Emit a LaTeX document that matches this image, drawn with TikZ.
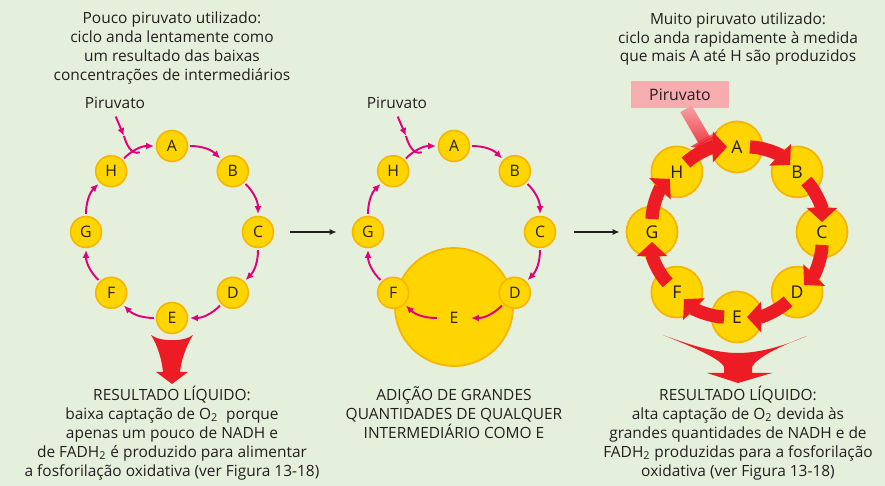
\documentclass[tikz,border=0pt]{standalone}
\usepackage{fontspec}
\setmainfont{Open Sans}
\usepackage{tikz}
\usetikzlibrary{arrows.meta, calc, fadings}

\definecolor{bgcol}{HTML}{E5F0DC}
\definecolor{magcol}{HTML}{E2007A}
\definecolor{ballfill}{HTML}{FFD500}
\definecolor{ballrim}{HTML}{F8B500}
\definecolor{redcol}{HTML}{ED1C24}
\definecolor{pinkcol}{HTML}{F7ADB0}
\definecolor{inkcol}{HTML}{231F20}

\tikzfading[name=pyrfade, top color=transparent!100, bottom color=transparent!0]

\begin{document}
\begin{tikzpicture}[x=0.02cm, y=0.02cm,
  every node/.style={text=inkcol},
  caption/.style={align=center, font=\fontsize{8.8}{10.8}\selectfont},
  ball/.style={circle, draw=ballrim, line width=0.9pt, fill=ballfill, minimum size=0.62cm, inner sep=0pt, font=\fontsize{9}{10}\selectfont},
  bigball/.style={circle, draw=ballrim, line width=1pt, fill=ballfill, minimum size=1.02cm, inner sep=0pt},
  letter/.style={font=\fontsize{10}{11}\selectfont, inner sep=0pt},
  magarrow/.style={-{Latex[length=4.5pt,width=4pt]}, magcol, line width=1.1pt, shorten >=1pt, shorten <=1pt},
  magline/.style={magcol, line width=1.1pt},
  redarrow/.style={-{Triangle[length=8pt,width=17pt]}, redcol, line width=7.5pt},
  flow/.style={-{Latex[length=4pt,width=3.5pt]}, line width=0.8pt, inkcol}
]
\fill[bgcol] (0,0) rectangle (885,486);
\useasboundingbox (0,0) rectangle (885,486);

% slow cycle
\coordinate (c1) at (172,254);
\foreach \n/\a in {A/90,B/45,C/0,D/-45,E/-90,F/-135,G/180,H/135}
  \node[ball] (p\n) at ($(c1)+(\a:86)$) {\n};
\foreach \s/\t in {A/B,B/C,C/D,D/E,E/F,F/G,G/H,H/A}
  \draw[magarrow] (p\s) to[bend left=22.5] (p\t);
\node[caption] (piru1) at (115,383) {Piruvato};
\coordinate (m1) at (124,350);
\coordinate (j1) at ($(c1)+(112:86)$);
\draw[magarrow, shorten >=0pt] (piru1.south) -- (m1);
\draw[magline] (m1) to[out=-75, in=200] (j1);
\node[caption] (top1) at (172,438) {Pouco piruvato utilizado:\\ciclo anda lentamente como\\um resultado das baixas\\concentrações de intermediários};

% added intermediate
\coordinate (c2) at (454,254);
\node[bigball, minimum size=2.36cm] (bigE) at (454,179) {};
\foreach \n/\a in {A/90,B/45,C/0,D/-45,F/-135,G/180,H/135}
  \node[ball] (q\n) at ($(c2)+(\a:86)$) {\n};
\node[circle, minimum size=0.6cm, inner sep=0pt, font=\fontsize{9}{10}\selectfont] (qE) at ($(c2)+(-90:86)$) {E};
\foreach \s/\t in {A/B,B/C,C/D,D/E,E/F,F/G,G/H,H/A}
  \draw[magarrow] (q\s) to[bend left=22.5] (q\t);
\node[caption] (piru2) at (397,383) {Piruvato};
\coordinate (m2) at (406,350);
\coordinate (j2) at ($(c2)+(112:86)$);
\draw[magarrow, shorten >=0pt] (piru2.south) -- (m2);
\draw[magline] (m2) to[out=-75, in=200] (j2);

% fast cycle
\coordinate (c3) at (737,254);
\foreach \n/\a in {A/90,B/45,C/0,D/-45,E/-90,F/-135,G/180,H/135}
  \node[bigball] (r\n) at ($(c3)+(\a:85)$) {};
\node[fill=pinkcol, minimum width=1.96cm, minimum height=0.54cm, font=\fontsize{9}{10}\selectfont] (pbox) at (680,391) {Piruvato};
\coordinate (jr) at ($(c3)+(108:85)$);
\draw[pinkcol, line width=7.5pt] ([xshift=0.12cm]pbox.south) -- (jr);
\draw[redarrow, path fading=pyrfade] ([xshift=0.12cm]pbox.south) -- (jr);
\foreach \s/\t in {A/B,B/C,C/D,D/E,E/F,F/G,G/H,H/A}
  \draw[redarrow, shorten <=0.26cm, shorten >=0.2cm] (r\s.center) to[bend left=22.5] (r\t.center);
\foreach \n in {A,B,C,D,E,F,G,H}
  \node[letter] (l\n) at (r\n) {\n};
\node[caption] (top3) at (738,447) {Muito piruvato utilizado:\\ciclo anda rapidamente à medida\\que mais A até H são produzidos};

\draw[flow] ([xshift=0.32cm]pC.east) -- ([xshift=-0.3cm]qG.west);
\draw[flow] ([xshift=0.36cm]qC.east) -- ([xshift=-0.12cm]rG.west);

% net result arrows
\fill[redcol] (151,151) .. controls (160,144) and (184,144) .. (193,151)
  .. controls (186,140) and (181,125) .. (180,114) -- (188,114) -- (172,102)
  -- (156,114) -- (163,114) .. controls (162,125) and (158,140) .. (151,151) -- cycle;
\fill[redcol] (663,151) .. controls (690,141) and (715,133) .. (738,133)
  .. controls (761,133) and (786,141) .. (807,150)
  .. controls (780,140) and (756,128) .. (752,119) -- (752,113) -- (772,113) -- (738,103)
  -- (707,113) -- (724,113) -- (724,119) .. controls (720,128) and (690,140) .. (663,151) -- cycle;

\node[caption] (res1) at (172,53) {RESULTADO LÍQUIDO:\\baixa captação de O\textsubscript{2}\ \ porque\\apenas um pouco de NADH e\\de FADH\textsubscript{2} é produzido para alimentar\\a fosforilação oxidativa (ver Figura 13-18)};
\node[caption] (res2) at (454,73) {ADIÇÃO DE GRANDES\\QUANTIDADES DE QUALQUER\\INTERMEDIÁRIO COMO E};
\node[caption] (res3) at (738,53) {RESULTADO LÍQUIDO:\\alta captação de O\textsubscript{2} devida às\\grandes quantidades de NADH e de\\FADH\textsubscript{2} produzidas para a fosforilação\\oxidativa (ver Figura 13-18)};
\end{tikzpicture}
\end{document}
